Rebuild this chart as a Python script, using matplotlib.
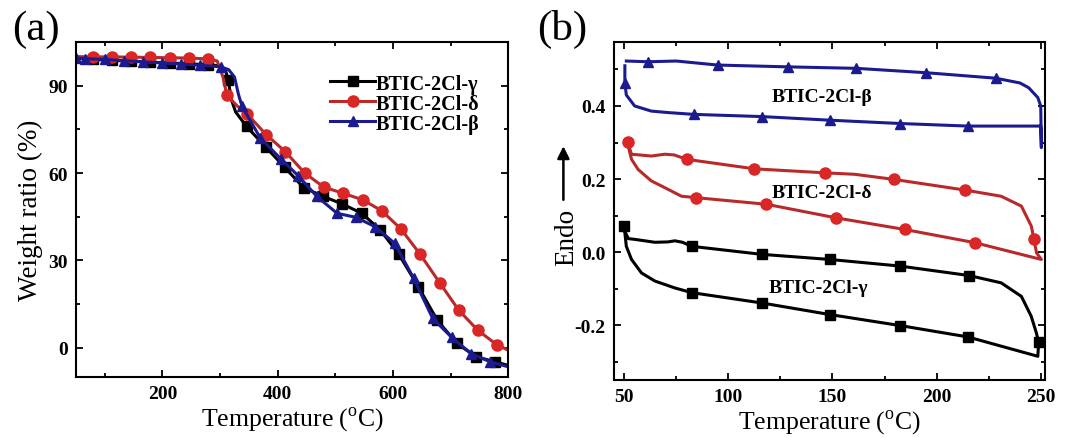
import numpy as np
import matplotlib
matplotlib.use('Agg')
import matplotlib.pyplot as plt
from matplotlib.ticker import MultipleLocator

plt.rcParams['font.family'] = ['Liberation Serif', 'DejaVu Serif']
plt.rcParams['mathtext.fontset'] = 'custom'
plt.rcParams['mathtext.rm'] = 'Liberation Serif'
plt.rcParams['axes.unicode_minus'] = False

# ---- (a) TGA data ----
labels = ['BTIC-2Cl-γ', 'BTIC-2Cl-δ', 'BTIC-2Cl-β']

tga_g_x = [50, 80, 113, 146, 179, 213, 246, 279, 300, 310, 314, 320, 327, 346, 379, 412, 445, 479, 512, 546, 578, 610, 644, 677, 711, 744, 777, 800]
tga_g_y = [99.5, 99, 98.7, 98.4, 98.1, 97.8, 97.5, 97.2, 96.8, 95, 92, 85, 81, 76, 69, 62, 55, 52, 49.4, 46.2, 40.5, 32.2, 21, 9.5, 1.5, -3, -4.8, -6]
tga_g_mk = [1, 2, 3, 4, 5, 6, 7, 10, 13, 14, 15, 16, 17, 18, 19, 20, 21, 22, 23, 24, 25, 26]

tga_d_x = [50, 80, 113, 146, 179, 213, 246, 279, 295, 305, 312, 330, 347, 380, 413, 447, 480, 513, 548, 581, 614, 647, 681, 714, 747, 780, 800]
tga_d_y = [100, 99.9, 99.9, 99.8, 99.7, 99.6, 99.5, 99.2, 98.5, 93, 86.7, 83, 80.3, 73.2, 67.4, 60, 55.2, 53.1, 50.8, 47, 40.8, 32.2, 22.4, 13, 6.1, 1.1, -0.8]
tga_d_mk = [1, 2, 3, 4, 5, 6, 7, 10, 12, 13, 14, 15, 16, 17, 18, 19, 20, 21, 22, 23, 24, 25]

tga_b_x = [50, 66, 100, 133, 166, 200, 233, 266, 301, 315, 325, 332, 338, 370, 405, 436, 468, 503, 536, 569, 603, 636, 669, 702, 736, 769, 800]
tga_b_y = [99.5, 99.3, 99, 98.6, 98.2, 97.8, 97.4, 97, 96.5, 95.5, 93, 87, 83, 72, 65, 59, 52, 46.2, 44.8, 41.6, 35.9, 23.9, 10.1, 3.6, -2, -4.8, -6.5]
tga_b_mk = [0, 1, 2, 3, 4, 5, 6, 7, 8, 12, 13, 14, 15, 16, 17, 18, 19, 20, 21, 22, 23, 24, 25]

# ---- (b) DSC data (heating + cooling loops) ----
dsc_b_x = [51, 61.5, 75, 94.8, 128.7, 161.5, 195, 228.4, 240, 244.2, 248.6, 250, 250.3, 250, 215, 182.6, 149, 116, 83.3, 71, 63, 55, 51, 50.3, 50.3]
dsc_b_y = [0.523, 0.521, 0.523, 0.512, 0.507, 0.503, 0.491, 0.476, 0.463, 0.450, 0.423, 0.40, 0.286, 0.345, 0.345, 0.352, 0.361, 0.371, 0.377, 0.382, 0.386, 0.40, 0.43, 0.464, 0.51]
dsc_b_mk = [1, 3, 4, 5, 6, 7, 14, 15, 16, 17, 18, 23]

dsc_d_x = [51.6, 53.5, 63, 69.5, 74, 80, 112.5, 146.6, 160.7, 179.6, 213.5, 231, 240.7, 245.5, 246.7, 248, 250.3, 218.3, 184.7, 151.6, 118.3, 84.7, 77.5, 71, 63, 56.7, 53.5, 51.9]
dsc_d_y = [0.301, 0.268, 0.263, 0.268, 0.266, 0.254, 0.228, 0.217, 0.213, 0.199, 0.170, 0.153, 0.126, 0.071, 0.035, -0.002, -0.020, 0.026, 0.062, 0.094, 0.131, 0.149, 0.153, 0.172, 0.195, 0.226, 0.254, 0.29]
dsc_d_mk = [0, 5, 6, 7, 9, 10, 14, 17, 18, 19, 20, 21]

dsc_g_x = [50, 50.6, 52, 55, 64.7, 71, 74.3, 78, 82.3, 116, 148.7, 182.3, 215.6, 231, 240.7, 245.4, 247.9, 249, 248.6, 215, 182.6, 149, 116, 82.6, 74.3, 64.7, 58.3, 53.5, 51, 50.3]
dsc_g_y = [0.071, 0.053, 0.037, 0.035, 0.027, 0.028, 0.031, 0.027, 0.016, -0.006, -0.020, -0.038, -0.064, -0.084, -0.121, -0.175, -0.221, -0.247, -0.285, -0.232, -0.201, -0.171, -0.139, -0.111, -0.098, -0.079, -0.057, -0.020, 0.016, 0.053]
dsc_g_mk = [0, 8, 9, 10, 11, 12, 17, 19, 20, 21, 22, 23]

black = '#000000'
red_line = '#b82a2a'
red_face = '#d92626'
blue = '#1b1b8f'

fig = plt.figure(figsize=(10.75, 4.39), dpi=100)
ax1 = fig.add_axes([0.0707, 0.139, 0.402, 0.763])
ax2 = fig.add_axes([0.571, 0.132, 0.401, 0.770])

# (a)
ax1.plot(tga_g_x, tga_g_y, color=black, lw=2.2, marker='s', ms=6.5, markevery=tga_g_mk, label=labels[0])
ax1.plot(tga_d_x, tga_d_y, color=red_line, lw=2.2, marker='o', ms=8, mfc=red_face, mec=red_face, markevery=tga_d_mk, label=labels[1])
ax1.plot(tga_b_x, tga_b_y, color=blue, lw=2.2, marker='^', ms=7.5, markevery=tga_b_mk, label=labels[2])
ax1.set_xlim(50, 800)
ax1.set_ylim(-10, 105)
ax1.xaxis.set_major_locator(MultipleLocator(200))
ax1.xaxis.set_minor_locator(MultipleLocator(100))
ax1.yaxis.set_major_locator(MultipleLocator(30))
ax1.yaxis.set_minor_locator(MultipleLocator(15))
ax1.set_xlabel('Temperature ($^{\\rm o}$C)', fontsize=18.5, labelpad=1)
ax1.set_ylabel('Weight ratio (%)', fontsize=19.5, labelpad=4)
leg = ax1.legend(loc='upper left', bbox_to_anchor=(0.57, 0.93), frameon=False,
                 prop={'weight': 'bold', 'size': 14.5}, handlelength=2.2,
                 handletextpad=0.05, labelspacing=0.0, borderaxespad=0)
ax1.text(-0.148, 1.01, '(a)', transform=ax1.transAxes, fontsize=31)

# (b)
ax2.plot(dsc_b_x, dsc_b_y, color=blue, lw=2.2, marker='^', ms=7.5, markevery=dsc_b_mk)
ax2.plot(dsc_d_x, dsc_d_y, color=red_line, lw=2.2, marker='o', ms=8, mfc=red_face, mec=red_face, markevery=dsc_d_mk)
ax2.plot(dsc_g_x, dsc_g_y, color=black, lw=2.2, marker='s', ms=6.5, markevery=dsc_g_mk)
ax2.set_xlim(45, 252)
ax2.set_ylim(-0.35, 0.575)
ax2.xaxis.set_major_locator(MultipleLocator(50))
ax2.xaxis.set_minor_locator(MultipleLocator(25))
ax2.yaxis.set_major_locator(MultipleLocator(0.2))
ax2.yaxis.set_minor_locator(MultipleLocator(0.1))
ax2.set_xlabel('Temperature ($^{\\rm o}$C)', fontsize=18.5, labelpad=1)
ax2.set_ylabel('Endo', fontsize=19.5)
ax2.yaxis.set_label_coords(-0.08, 0.425)
ax2.annotate('', xy=(-0.117, 0.70), xytext=(-0.117, 0.525), xycoords='axes fraction',
             arrowprops=dict(arrowstyle='-|>', color='black', lw=1.8, mutation_scale=18))
ax2.text(145, 0.426, 'BTIC-2Cl-β', fontsize=14, fontweight='bold', ha='center', va='center')
ax2.text(145, 0.163, 'BTIC-2Cl-δ', fontsize=14, fontweight='bold', ha='center', va='center')
ax2.text(143, -0.096, 'BTIC-2Cl-γ', fontsize=14, fontweight='bold', ha='center', va='center')
ax2.text(-0.178, 1.01, '(b)', transform=ax2.transAxes, fontsize=31)

for ax in (ax1, ax2):
    for s in ax.spines.values():
        s.set_linewidth(1.5)
    ax.tick_params(which='both', direction='in', top=True, right=True, width=1.3)
    ax.tick_params(which='major', length=5, labelsize=14, pad=6)
    ax.tick_params(which='minor', length=3)
    for t in ax.get_xticklabels() + ax.get_yticklabels():
        t.set_fontweight('bold')
        t.set_fontfamily('Liberation Serif')

fig.savefig('out.png', dpi=100)
